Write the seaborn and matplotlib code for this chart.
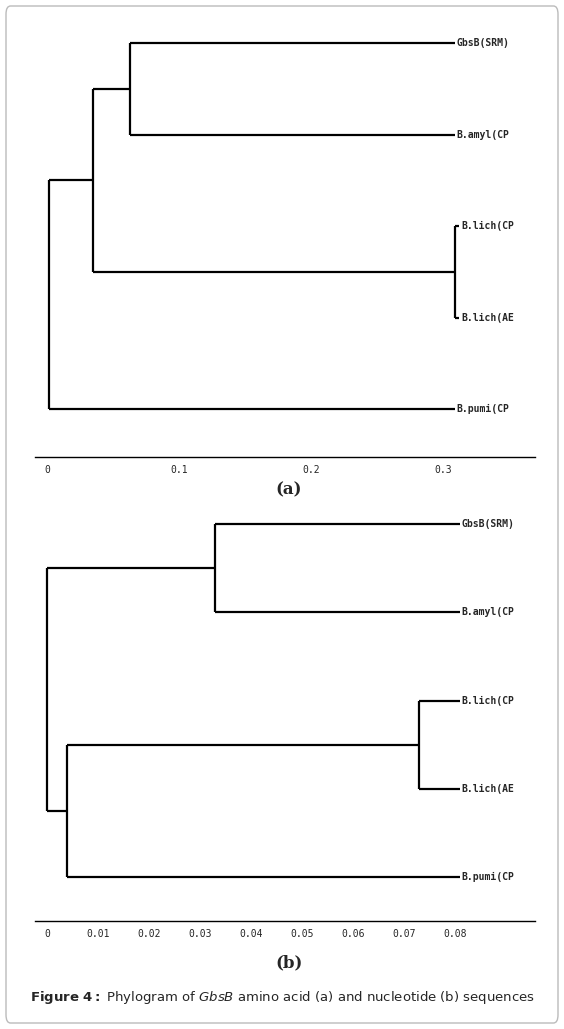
import matplotlib
matplotlib.use("Agg")
import matplotlib.pyplot as plt
import seaborn as sns
from matplotlib.patches import FancyBboxPatch

sns.set_theme(style="white")
plt.rcParams['font.family'] = ['DejaVu Sans']

leaves = ["GbsB(SRM)", "B.amyl(CP", "B.lich(CP", "B.lich(AE", "B.pumi(CP"]

# Panel (a): node depths (distance from 0 on scale)
a_root = 0.0015
a_n1 = 0.035    # (GbsB, amyl) + lich clade
a_n2 = 0.063    # GbsB, amyl
a_n3 = 0.309    # lich pair
a_leaf = [0.309, 0.309, 0.3125, 0.3125, 0.309]
a_ticks = [0, 0.1, 0.2, 0.3]
a_ticklabels = ["0", "0.1", "0.2", "0.3"]

# Panel (b)
b_root = 0.0
b_n1 = 0.033    # GbsB, amyl
b_n2 = 0.004    # lich clade + pumi
b_n3 = 0.073    # lich pair
b_leaf = [0.081, 0.081, 0.081, 0.081, 0.081]
b_ticks = [0, 0.01, 0.02, 0.03, 0.04, 0.05, 0.06, 0.07, 0.08]
b_ticklabels = ["0", "0.01", "0.02", "0.03", "0.04", "0.05", "0.06", "0.07", "0.08"]

W, H = 564, 1029
fig = plt.figure(figsize=(W/100, H/100), dpi=100)
fig.patches.append(FancyBboxPatch((6/W, 6/H), 552/W, 1017/H, boxstyle="round,pad=0,rounding_size=0.008",
                                  transform=fig.transFigure, fill=False, ec="#bbbbbb", lw=1))

def vline(ax, x, y0, y1):
    ax.plot([x, x], [y0, y1], color="black", lw=1.6, solid_capstyle="butt")

def hline(ax, x0, x1, y):
    ax.plot([x0, x1], [y, y], color="black", lw=1.6, solid_capstyle="butt")

def setup(ax, xlim, ylim, ticks, labels):
    ax.set_xlim(*xlim); ax.set_ylim(*ylim)
    for s in ["top", "left", "right"]:
        ax.spines[s].set_visible(False)
    ax.spines["bottom"].set_color("black"); ax.spines["bottom"].set_linewidth(1)
    ax.set_yticks([])
    ax.set_xticks(ticks)
    ax.set_xticklabels(labels, fontsize=7, family="DejaVu Sans Mono")
    ax.tick_params(axis="x", length=0, pad=6)
    ax.set_facecolor("none")

def leaf_labels(ax, xs, off):
    for i, (lab, x) in enumerate(zip(leaves, xs)):
        ax.text(x + off, i, lab, fontsize=7, family="DejaVu Sans Mono", fontweight="bold", va="center", ha="left")

# (a)
axa = fig.add_axes([35/W, 1-457/H, 500/W, 437/H])
setup(axa, (-0.0091, 0.3697), (4.52, -0.25), a_ticks, a_ticklabels)
y_n2 = 0.5; y_n3 = 2.5; y_n1 = (y_n2 + y_n3)/2; y_r = (y_n1 + 4)/2
vline(axa, a_root, y_n1, 4); hline(axa, a_root, a_n1, y_n1); hline(axa, a_root, a_leaf[4], 4)
vline(axa, a_n1, y_n2, y_n3); hline(axa, a_n1, a_n2, y_n2); hline(axa, a_n1, a_n3, y_n3)
vline(axa, a_n2, 0, 1); hline(axa, a_n2, a_leaf[0], 0); hline(axa, a_n2, a_leaf[1], 1)
vline(axa, a_n3, 2, 3); hline(axa, a_n3, a_leaf[2], 2); hline(axa, a_n3, a_leaf[3], 3)
leaf_labels(axa, a_leaf, 0.0012)

# (b)
axb = fig.add_axes([35/W, 1-921/H, 500/W, 426/H])
setup(axb, (-0.00235, 0.0957), (4.5, -0.33), b_ticks, b_ticklabels)
yb_n1 = 0.5; yb_n3 = 2.5; yb_n2 = (yb_n3 + 4)/2
vline(axb, b_root, yb_n1, yb_n2); hline(axb, b_root, b_n1, yb_n1); hline(axb, b_root, b_n2, yb_n2)
vline(axb, b_n1, 0, 1); hline(axb, b_n1, b_leaf[0], 0); hline(axb, b_n1, b_leaf[1], 1)
vline(axb, b_n2, yb_n3, 4); hline(axb, b_n2, b_n3, yb_n3); hline(axb, b_n2, b_leaf[4], 4)
vline(axb, b_n3, 2, 3); hline(axb, b_n3, b_leaf[2], 2); hline(axb, b_n3, b_leaf[3], 3)
leaf_labels(axb, b_leaf, 0.0003)

fig.text(289/W, 1-490/H, "(a)", fontsize=12, fontweight="bold", family="DejaVu Serif", ha="center", va="center")
fig.text(289/W, 1-963/H, "(b)", fontsize=12, fontweight="bold", family="DejaVu Serif", ha="center", va="center")
fig.text(282/W, 1-997/H, r"$\mathbf{Figure\ 4:}$ Phylogram of $\mathit{GbsB}$ amino acid (a) and nucleotide (b) sequences",
         fontsize=9.5, ha="center", va="center")

fig.savefig("out.png", dpi=100)
